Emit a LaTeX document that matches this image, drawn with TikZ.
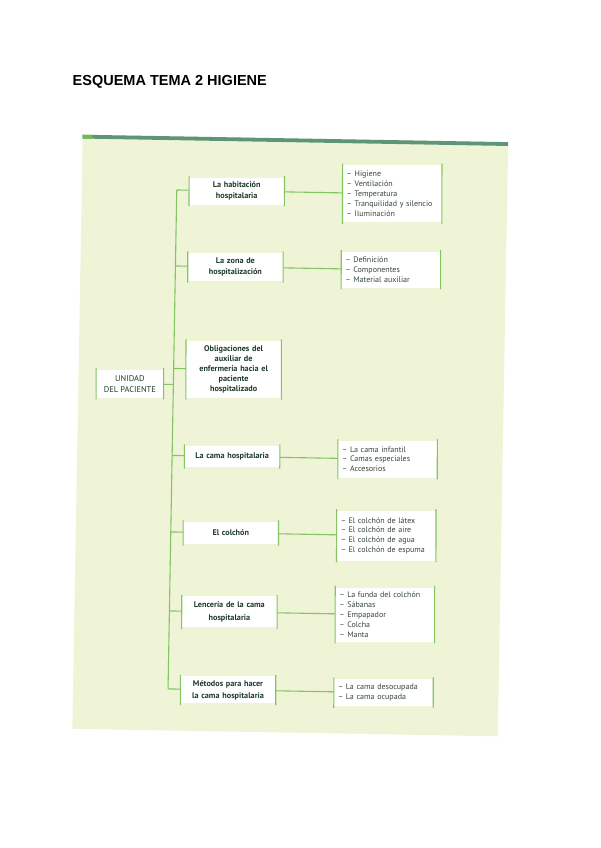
\documentclass[tikz,border=0pt]{standalone}
\usepackage{fontspec}
\newfontfamily\titlefont{Liberation Sans}
\newfontfamily\boxfont{PT Sans}
\definecolor{panelfill}{HTML}{EFF4D7}
\definecolor{topline}{HTML}{5F9478}
\definecolor{accent}{HTML}{6BBF47}
\definecolor{conncol}{HTML}{84C463}
\definecolor{headtext}{HTML}{1E3B2C}
\definecolor{listtext}{HTML}{36463C}
\tikzset{
  conn/.style={draw=conncol, line width=1.1pt},
  sideline/.style={draw=conncol, line width=1.1pt},
  mainbox/.style={fill=white, inner sep=0pt, minimum width=95pt, text width=93pt, align=center,
    font=\boxfont\bfseries\fontsize{8.2}{10.4}\selectfont, text=headtext},
  listbox/.style={fill=white, inner xsep=4pt, inner ysep=0pt, minimum width=99pt, text width=91pt, align=left,
    font=\boxfont\fontsize{8}{9.8}\selectfont, text=listtext},
  rootbox/.style={fill=white, inner sep=0pt, minimum width=67pt, minimum height=28pt, align=center,
    font=\boxfont\fontsize{8.4}{10.8}\selectfont, text=headtext},
}
\newcommand\boxsides[1]{%
  \draw[sideline] ([yshift=1.5pt]#1.north west) -- ([yshift=-1.5pt]#1.south west);
  \draw[sideline] ([yshift=1.5pt]#1.north east) -- ([yshift=-1.5pt]#1.south east);}
\begin{document}
\begin{tikzpicture}[x=1pt,y=-1pt]
\useasboundingbox (0,0) rectangle (600,848);
\node[anchor=west, inner sep=0pt, font=\titlefont\bfseries\fontsize{14.5}{16}\selectfont] (title) at (72.5,82) {ESQUEMA TEMA 2 HIGIENE};
\begin{scope}[rotate around={-1:(290,435)}]
  \fill[panelfill] (77.5,138.4) rectangle (503,732.6);
  \draw[topline, line width=3.8pt] (77.5,140.3) -- (503,140.3);
  \draw[accent, line width=3.8pt] (77.5,140.3) -- (87,140.3);
  % root
  \node[rootbox] (u) at (129,386.5) {UNIDAD\\DEL PACIENTE};
  % level 1
  \node[mainbox, minimum height=27pt] (b1) at (232.5,192) {La habitación\\hospitalaria};
  \node[mainbox, minimum height=28pt] (b2) at (232.5,268) {La zona de\\hospitalización};
  \node[mainbox, minimum height=57pt, font=\boxfont\bfseries\fontsize{8.2}{10}\selectfont] (b3) at (232.5,370.5) {Obligaciones del\\auxiliar de\\enfermería hacia el\\paciente\\hospitalizado};
  \node[mainbox, minimum height=21pt] (b4) at (232.5,457.5) {La cama hospitalaria};
  \node[mainbox, minimum height=22pt] (b5) at (232.5,534) {El colchón};
  \node[mainbox, minimum height=31pt, font=\boxfont\bfseries\fontsize{8.2}{13}\selectfont] (b6) at (232.5,613) {Lencería de la cama\\hospitalaria};
  \node[mainbox, minimum height=27pt, font=\boxfont\bfseries\fontsize{8.2}{12}\selectfont] (b7) at (232.5,691) {Métodos para hacer\\la cama hospitalaria};
  % level 2
  \node[listbox, minimum height=57pt] (s1) at (388,192) {– Higiene\\– Ventilación\\– Temperatura\\– Tranquilidad y silencio\\– Iluminación};
  \node[listbox, minimum height=36pt] (s2) at (388,268) {– Definición\\– Componentes\\– Material auxiliar};
  \node[listbox, minimum height=37pt] (s4) at (388,457.5) {– La cama infantil\\– Camas especiales\\– Accesorios};
  \node[listbox, minimum height=50pt] (s5) at (388,534) {– El colchón de látex\\– El colchón de aire\\– El colchón de agua\\– El colchón de espuma};
  \node[listbox, minimum height=54pt] (s6) at (388,613) {– La funda del colchón\\– Sábanas\\– Empapador\\– Colcha\\– Manta};
  \node[listbox, minimum height=27pt] (s7) at (388,691) {– La cama desocupada\\– La cama ocupada};
  \foreach \n in {u,b1,b2,b3,b4,b5,b6,b7,s1,s2,s4,s5,s6,s7}{\boxsides{\n}}
  % trunk and junctions
  \coordinate (j1) at (172.5,192);
  \coordinate (j2) at (172.5,268);
  \coordinate (j3) at (172.5,370.5);
  \coordinate (ju) at (172.5,386.5);
  \coordinate (j4) at (172.5,457.5);
  \coordinate (j5) at (172.5,534);
  \coordinate (j6) at (172.5,613);
  \coordinate (j7) at (172.5,691);
  \draw[conn] (j1) -- (j7);
  \draw[conn] (u) -- (ju);
  \foreach \i in {1,2,3,4,5,6,7}{\draw[conn] (j\i) -- (b\i);}
  \foreach \i in {1,2,4,5,6,7}{\draw[conn] (b\i) -- (s\i);}
\end{scope}
\end{tikzpicture}
\end{document}
